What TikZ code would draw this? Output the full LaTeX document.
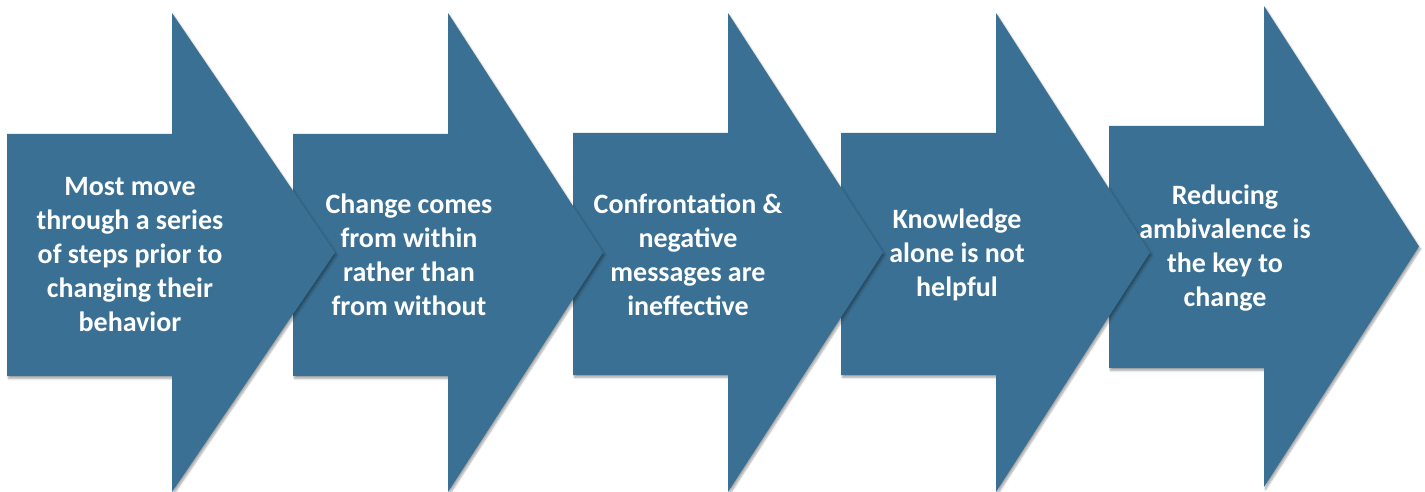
\documentclass[tikz,border=0pt]{standalone}
\usepackage{fontspec}
\setmainfont{Carlito}
\usetikzlibrary{shadows.blur}
\definecolor{stepblue}{HTML}{3A7093}
\tikzset{
  steparrow/.style={fill=stepblue,
    blur shadow={shadow xshift=1.5pt,shadow yshift=-2.5pt,
      shadow blur steps=6,shadow opacity=35}},
  steptext/.style={text=white,align=center,inner sep=0pt,
    font=\bfseries\fontsize{28}{34}\selectfont}
}
\begin{document}
\begin{tikzpicture}
  [x=1pt,y=-1pt]
  \useasboundingbox (0,0) rectangle (1425,492);

  % last arrow first, so every arrow lies over the next one
  \foreach \l/\b/\tx/\ya/\yb/\hy/\hz in
    {1109/1264/1419/126/368/6/487,
     841/996/1150/133/375/13/492,
     573/728/883/133/375/13/492,
     293/448/603/134/376/13/492,
     7/172/335/134/376/13/492}
    \fill[steparrow] (\l,\ya) -- (\b,\ya) -- (\b,\hy)
      -- (\tx,{(\hy+\hz)/2}) -- (\b,\hz) -- (\b,\yb) -- (\l,\yb) -- cycle;

  \node[steptext] (s1) at (130,255) {Most move\\through a series\\of steps prior to\\changing their\\behavior};
  \node[steptext] (s2) at (409,255) {Change comes\\from within\\rather than\\from without};
  \node[steptext] (s3) at (688,255) {Confrontation \&\\negative\\messages are\\ineffective};
  \node[steptext] (s4) at (957,255) {Knowledge\\alone is not\\helpful};
  \node[steptext] (s5) at (1225,248) {Reducing\\ambivalence is\\the key to\\change};

\end{tikzpicture}
\end{document}
